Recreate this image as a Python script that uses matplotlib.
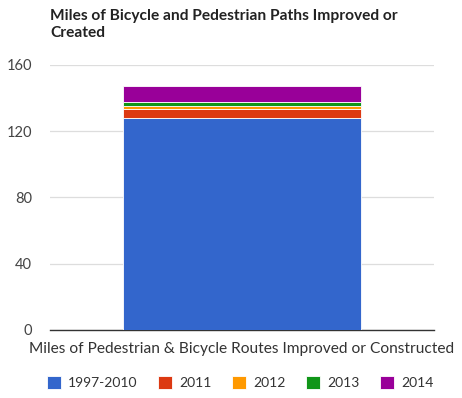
import matplotlib.pyplot as plt

plt.rcParams['font.family'] = ['Lato', 'DejaVu Sans']

# Miles improved or created, by period
periods = ['1997-2010', '2011', '2012', '2013', '2014']
miles = [128, 5.5, 1.5, 2.5, 10]
colors = ['#3366CC', '#DC3912', '#FF9900', '#109618', '#990099']
category = 'Miles of Pedestrian & Bicycle Routes Improved or Constructed'
yticks = [0, 40, 80, 120, 160]

fig = plt.figure(figsize=(4.62, 3.98), dpi=100)
ax = fig.add_axes([0.108, 0.171, 0.831, 0.666])

bottom = 0
for label, val, c in zip(periods, miles, colors):
    ax.bar(0, val, width=0.62, bottom=bottom, color=c, edgecolor='white',
           linewidth=0.6, label=label, zorder=3)
    bottom += val

ax.set_xlim(-0.5, 0.5)
ax.set_ylim(0, 160)
ax.set_yticks(yticks)
ax.set_xticks([])
ax.tick_params(axis='y', length=0, pad=13, labelsize=10.5, labelcolor='#444444')
ax.grid(axis='y', color='#dddddd', linewidth=0.9, zorder=0)
for side in ['top', 'right', 'left']:
    ax.spines[side].set_visible(False)
ax.spines['bottom'].set_color('#333333')
ax.spines['bottom'].set_linewidth(1.0)

ax.set_xlabel(category, fontsize=11.2, color='#333333', labelpad=9)

fig.text(0.108, 0.978, 'Miles of Bicycle and Pedestrian Paths Improved or\nCreated',
         fontsize=11.2, fontweight='bold', color='#222222', va='top',
         linespacing=1.25)

fig.legend(loc='center', bbox_to_anchor=(0.52, 0.038), ncol=5, frameon=False,
           fontsize=10, handlelength=1.0, handleheight=1.0, handletextpad=0.5,
           columnspacing=1.5, labelcolor='#333333')

fig.savefig('out.png', dpi=100)
